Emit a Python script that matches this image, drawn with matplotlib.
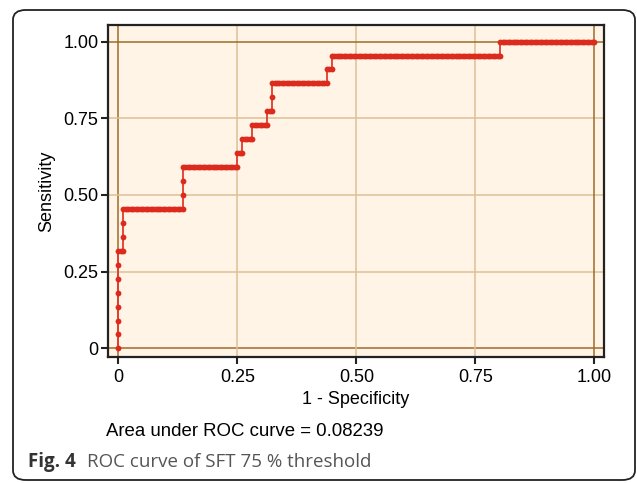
import numpy as np
import matplotlib
matplotlib.use('Agg')
import matplotlib.pyplot as plt
from matplotlib.patches import FancyBboxPatch

# cases sorted by score, read off the ROC steps (P = diseased, N = not)
run_labels = ['P', 'N', 'P', 'N', 'P', 'N', 'P', 'N', 'P', 'N', 'P',
              'N', 'P', 'N', 'P', 'N', 'P', 'N', 'P', 'N', 'P', 'N']
run_lengths = [7, 2, 3, 24, 3, 22, 1, 2, 1, 4, 1,
               6, 1, 2, 2, 22, 1, 2, 1, 68, 1, 38]

tick_vals = [0, 0.25, 0.5, 0.75, 1.0]
tick_labels = ['0', '0.25', '0.50', '0.75', '1.00']
auc_text = 'Area under ROC curve = 0.08239'

# build ROC points from the ordered cases
cases = np.concatenate([[lab] * n for lab, n in zip(run_labels, run_lengths)])
n_pos = (cases == 'P').sum()
n_neg = (cases == 'N').sum()
tpr = np.concatenate([[0], np.cumsum(cases == 'P')]) / n_pos
fpr = np.concatenate([[0], np.cumsum(cases == 'N')]) / n_neg

plt.rcParams['font.family'] = ['Liberation Sans', 'DejaVu Sans']

fig = plt.figure(figsize=(6.37, 4.83), dpi=100)
ax = fig.add_axes([0.1696, 0.2609, 0.7784, 0.6873])
ax.set_facecolor('#fff4e6')

# grid lines
for v in tick_vals:
    c = '#a06a28' if v in (0, 1.0) else '#dcc09a'
    ax.axvline(v, color=c, lw=1.1, zorder=1)
    ax.axhline(v, color=c, lw=1.1, zorder=1)

ax.plot(fpr, tpr, color='#e33a2c', lw=1.3, zorder=2)
ax.plot(fpr, tpr, 'o', color='#dc2a1c', markersize=4.2, markeredgewidth=0, zorder=3)

ax.set_xlim(-0.0216, 1.020)
ax.set_ylim(-0.028, 1.054)
ax.set_xticks(tick_vals)
ax.set_xticklabels(tick_labels)
ax.set_yticks(tick_vals)
ax.set_yticklabels(tick_labels)
ax.tick_params(labelsize=13, length=5, width=1.5, color='#222222', pad=2)
ax.tick_params(axis='x', pad=4)
for s in ax.spines.values():
    s.set_color('#222222')
    s.set_linewidth(1.6)

ax.set_xlabel('1 - Specificity', fontsize=13, labelpad=3)
ax.set_ylabel('Sensitivity', fontsize=13, labelpad=6)

fig.text(106 / 637, 1 - 431 / 483, auc_text, fontsize=13.4, va='center', ha='left')

# caption
fig.text(28 / 637, 1 - 462 / 483, 'Fig. 4', fontsize=13.5, fontweight='bold',
         family=['Open Sans', 'DejaVu Sans'], color='#333333', va='center')
fig.text(87 / 637, 1 - 462 / 483, 'ROC curve of SFT 75 % threshold', fontsize=13.5,
         family=['Open Sans', 'DejaVu Sans'], color='#555555', va='center')

# rounded frame round the whole figure
box = FancyBboxPatch((13 / 637, 3 / 483), 622 / 637, 470 / 483,
                     boxstyle='round,pad=0,rounding_size=0.02',
                     transform=fig.transFigure, fill=False, edgecolor='#222222', lw=1.3)
fig.patches.append(box)

fig.savefig('out.png', dpi=100)
